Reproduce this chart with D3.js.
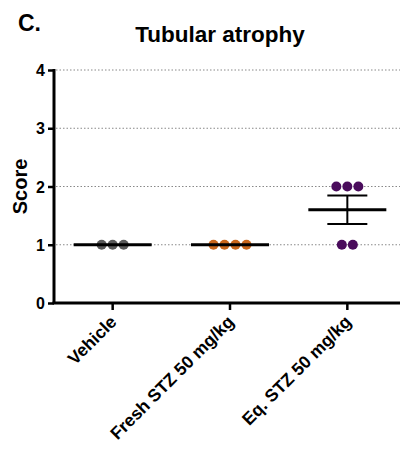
<!DOCTYPE html>
<html><head><meta charset="utf-8">
<script src="https://cdn.jsdelivr.net/npm/d3@7"></script>
<style>body{margin:0;background:#fff;}text{font-family:"Liberation Sans",Arial,sans-serif;font-weight:bold;}</style>
</head><body><svg id="c" width="400" height="451"></svg>
<script>
const categories = ["Vehicle", "Fresh STZ 50 mg/kg", "Eq. STZ 50 mg/kg"];
const vehicle = [1, 1, 1];
const freshSTZ = [1, 1, 1, 1];
const eqSTZ = [2, 2, 2, 1, 1];
const colors = ["#5a5a5a", "#c8661c", "#4a0c5c"];
const yTicks = [0, 1, 2, 3, 4];
const groups = [vehicle, freshSTZ, eqSTZ];

const svg = d3.select("#c");
const x = d3.scaleBand().domain(categories).range([54, 406]).padding(0);
const y = d3.scaleLinear().domain([0, 4]).range([303, 70]);

// title and panel label
svg.append("text").attr("x", 18).attr("y", 31).attr("font-size", 23).text("C.");
svg.append("text").attr("x", 220).attr("y", 42).attr("text-anchor", "middle").attr("font-size", 22.5).text("Tubular atrophy");

// grid
svg.append("g").selectAll("line").data(yTicks.filter(d => d > 0)).join("line")
  .attr("x1", 56).attr("x2", 400).attr("y1", d => y(d)).attr("y2", d => y(d))
  .attr("stroke", "#888").attr("stroke-width", 1).attr("stroke-dasharray", "1.5,2");

// y axis
const ya = svg.append("g").attr("transform", "translate(54,0)")
  .call(d3.axisLeft(y).tickValues(yTicks).tickSize(6).tickPadding(3).tickFormat(d3.format("d")));
ya.select(".domain").attr("stroke", "#000").attr("stroke-width", 3).attr("d", `M0,${y(4)-1}V${y(0)}`);
ya.selectAll(".tick line").attr("stroke", "#000").attr("stroke-width", 2.5);
ya.selectAll(".tick text").attr("font-size", 16).attr("fill", "#000").attr("dy", "0.35em")
  .style("font-family", "Liberation Sans, Arial, sans-serif").style("font-weight", "bold");

svg.append("text").attr("transform", `translate(27,${(y(0)+y(4))/2}) rotate(-90)`)
  .attr("text-anchor", "middle").attr("font-size", 20).text("Score");

// x axis
const xa = svg.append("g").attr("transform", `translate(0,${y(0)})`)
  .call(d3.axisBottom(x).tickSize(7).tickFormat(""));
xa.select(".domain").attr("stroke", "#000").attr("stroke-width", 3).attr("d", "M52.5,0H400");
xa.selectAll(".tick line").attr("stroke", "#000").attr("stroke-width", 2.5);
svg.append("g").selectAll("text").data(categories).join("text")
  .attr("transform", d => `translate(${x(d) + x.bandwidth()/2 + 5},${y(0) + 20}) rotate(-45)`)
  .attr("text-anchor", "end").attr("font-size", 17.5).text(d => d);

// dots (centered rows of equal values)
const spacing = 11;
groups.forEach((vals, gi) => {
  const cx = x(categories[gi]) + x.bandwidth()/2;
  const byVal = d3.group(vals, v => v);
  const pts = [];
  byVal.forEach((arr, v) => {
    arr.forEach((_, i) => pts.push({v, dx: (i - (arr.length - 1)/2) * spacing}));
  });
  svg.append("g").selectAll("circle").data(pts).join("circle")
    .attr("cx", d => cx + d.dx).attr("cy", d => y(d.v)).attr("r", 5).attr("fill", colors[gi]);

  const m = d3.mean(vals);
  const sem = vals.length > 1 ? d3.deviation(vals) / Math.sqrt(vals.length) : 0;
  const g = svg.append("g").attr("stroke", "#000");
  if (sem > 0) {
    g.append("line").attr("x1", cx).attr("x2", cx).attr("y1", y(m - sem)).attr("y2", y(m + sem)).attr("stroke-width", 2);
    [m - sem, m + sem].forEach(v => g.append("line").attr("x1", cx - 20).attr("x2", cx + 20)
      .attr("y1", y(v)).attr("y2", y(v)).attr("stroke-width", 2));
  }
  g.append("line").attr("x1", cx - 39).attr("x2", cx + 39).attr("y1", y(m)).attr("y2", y(m)).attr("stroke-width", 3);
});
</script></body></html>
